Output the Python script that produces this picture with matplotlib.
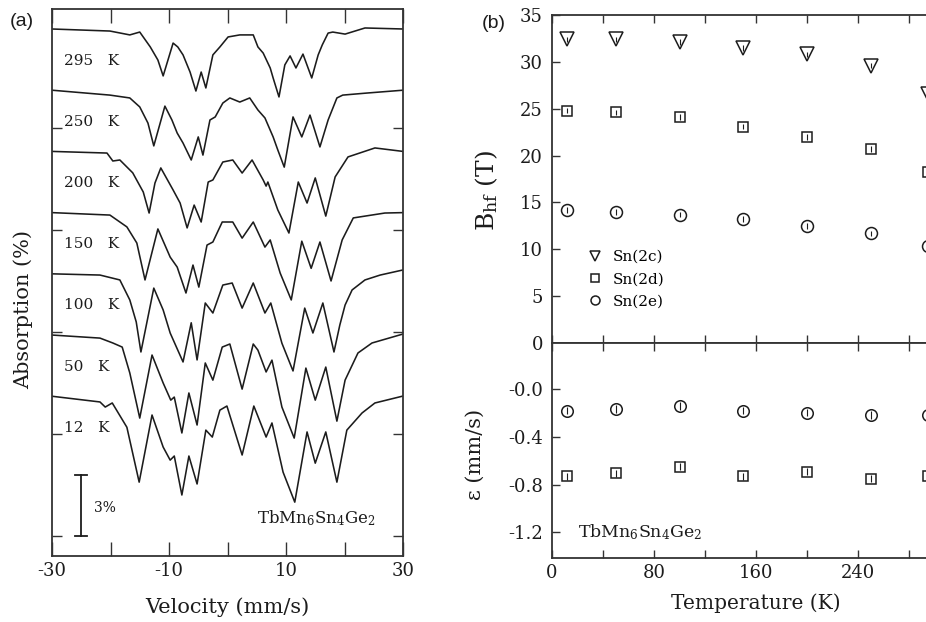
import matplotlib
matplotlib.use("Agg")
import matplotlib.pyplot as plt
from matplotlib.ticker import MultipleLocator, FixedLocator, NullFormatter

plt.rcParams['font.family'] = 'DejaVu Serif'
plt.rcParams['mathtext.fontset'] = 'dejavuserif'
plt.rcParams['axes.unicode_minus'] = False

# ---------------- (a) Mossbauer spectra: velocity (mm/s) and absorption depth (%) ----------------
spec_labels = ['295', '250', '200', '150', '100', '50', '12']

v_295 = [-30, -20.1, -16.7, -15.0, -13.2, -11.9, -11.0, -9.3, -8.5, -7.6, -6.4, -5.4, -4.5, -3.7, -2.5,
         -1.3, 0.1, 2.1, 4.4, 5.2, 6.1, 7.3, 7.8, 8.8, 9.8, 10.7, 11.7, 12.9, 14.4, 15.5, 16.2, 17.2,
         18.0, 20.1, 23.5, 30]
a_295 = [0.00, 0.10, 0.29, 0.15, 0.88, 1.52, 2.30, 0.69, 0.88, 1.27, 2.11, 3.04, 2.11, 2.89, 1.27,
         0.88, 0.39, 0.29, 0.29, 0.88, 1.18, 1.91, 2.40, 3.33, 1.76, 1.32, 1.91, 1.23, 2.40, 1.27, 0.78, 0.20,
         0.15, 0.25, -0.05, 0.00]

v_250 = [-30, -20.1, -16.7, -15.0, -13.6, -12.6, -10.7, -9.5, -8.6, -7.6, -6.2, -5.0, -4.2, -3.0, -2.1,
         -0.8, 0.4, 2.1, 3.8, 5.2, 6.4, 7.8, 8.6, 9.7, 11.2, 12.7, 14.1, 15.8, 17.2, 18.7, 19.7, 23.8, 30]
a_250 = [0.00, 0.24, 0.38, 0.82, 1.61, 2.73, 0.78, 1.46, 2.10, 2.59, 3.42, 2.29, 3.18, 1.46, 1.31,
         0.63, 0.38, 0.58, 0.38, 0.97, 1.36, 2.29, 2.93, 3.77, 1.31, 2.29, 1.22, 2.78, 1.46, 0.38, 0.24, 0.14, 0.00]

v_200 = [-30, -20.6, -19.6, -18.4, -16.2, -14.4, -13.4, -12.4, -11.4, -9.3, -8.1, -6.9, -5.7, -4.5, -3.3,
         -2.5, -0.8, 0.9, 2.5, 4.2, 6.1, 6.6, 6.9, 8.6, 10.5, 12.1, 13.6, 15.0, 16.8, 18.4, 20.6, 25.2, 30]
a_200 = [0.00, 0.08, 0.47, 0.42, 1.05, 1.99, 3.02, 1.55, 0.81, 1.89, 2.53, 3.75, 2.63, 3.46, 1.50,
         1.40, 0.52, 0.42, 1.06, 0.42, 1.40, 1.70, 1.50, 2.87, 4.00, 1.50, 2.53, 1.30, 3.17, 1.25, 0.27, -0.17, 0.00]

v_150 = [-30, -20.1, -17.2, -15.5, -14.1, -11.9, -9.8, -8.6, -7.1, -5.9, -4.9, -3.5, -2.5, -0.9, 0.9,
         2.5, 4.4, 6.4, 7.3, 9.0, 10.9, 12.7, 14.3, 15.8, 17.7, 19.6, 21.5, 26.9, 30]
a_150 = [0.00, 0.12, 0.70, 1.49, 3.30, 0.80, 2.18, 2.67, 3.94, 2.57, 3.65, 1.59, 1.44, 0.46, 0.46,
         1.25, 0.46, 1.69, 1.34, 2.96, 4.28, 1.40, 2.73, 1.44, 3.35, 1.34, 0.26, 0.02, 0.00]

v_100 = [-30, -21.8, -18.4, -16.7, -15.6, -14.8, -12.6, -11.0, -9.8, -7.6, -6.2, -5.2, -3.8, -2.5, -0.8,
         0.8, 2.5, 4.4, 6.4, 7.4, 9.3, 11.2, 13.2, 14.6, 16.3, 18.2, 19.2, 20.1, 21.3, 23.5, 26.1, 30]
a_100 = [0.00, 0.06, 0.30, 1.28, 2.36, 3.83, 0.70, 1.77, 2.90, 4.32, 2.40, 4.22, 1.43, 1.92, 0.55,
         0.45, 1.68, 0.45, 1.92, 1.43, 3.40, 4.76, 1.68, 2.90, 1.43, 3.83, 2.51, 1.53, 0.79, 0.30, 0.06, -0.19]

v_50 = [-30, -21.8, -19.6, -18.0, -16.7, -15.0, -12.9, -11.0, -9.7, -9.1, -7.8, -6.6, -5.2, -3.8, -2.5,
        -0.9, 0.4, 2.5, 4.4, 5.2, 6.6, 7.6, 9.3, 11.4, 13.4, 15.0, 16.8, 18.7, 20.1, 22.3, 24.7, 30]
a_50 = [0.00, 0.15, 0.39, 0.59, 1.86, 4.07, 0.98, 2.35, 3.19, 3.04, 4.80, 2.84, 4.41, 1.37, 2.21,
        0.59, 0.44, 2.65, 0.44, 0.74, 1.81, 1.23, 3.53, 5.05, 1.62, 3.19, 1.57, 4.22, 2.21, 0.88, 0.39, -0.05]

v_12 = [-30, -21.8, -20.9, -19.7, -17.2, -15.1, -12.9, -11.0, -9.8, -9.1, -7.8, -6.6, -5.2, -3.7, -2.6,
        -1.3, -0.1, 2.5, 4.5, 6.6, 7.6, 9.5, 11.5, 13.6, 15.0, 16.8, 18.7, 20.4, 23.0, 25.2, 30]
a_12 = [0.00, 0.28, 0.53, 0.33, 1.52, 4.21, 0.92, 2.49, 3.13, 2.93, 4.84, 2.93, 4.30, 1.66, 2.00,
        0.68, 0.48, 2.88, 0.48, 2.00, 1.31, 3.72, 5.19, 1.75, 3.28, 1.75, 4.21, 1.66, 0.82, 0.33, -0.01]

spectra_v = [v_295, v_250, v_200, v_150, v_100, v_50, v_12]
spectra_a = [a_295, a_250, a_200, a_150, a_100, a_50, a_12]
scale_bar_pct = 3

# ---------------- (b) hyperfine parameters ----------------
temps = [12, 50, 100, 150, 200, 250, 295]
bhf_2c = [32.4, 32.4, 32.1, 31.5, 30.8, 29.6, 26.6]
bhf_2d = [24.8, 24.6, 24.1, 23.1, 22.0, 20.7, 18.3]
bhf_2e = [14.2, 14.0, 13.7, 13.2, 12.5, 11.7, 10.4]
eps_2e = [-0.178, -0.165, -0.14, -0.18, -0.195, -0.215, -0.218]
eps_2d = [-0.73, -0.705, -0.65, -0.73, -0.69, -0.75, -0.73]
bhf_err = 0.3
eps_err = 0.03
eps_tick_labels = ['-1.2', '-0.8', '-0.4', '-0.0']

W, H = 926, 622
fig = plt.figure(figsize=(W / 100, H / 100), dpi=100)

ink = '#1c1c1c'
spine_c = '#333333'

# ---------------- panel (a) ----------------
axA = fig.add_axes([52 / W, 66 / H, 351 / W, 547 / H])
base, step = 11.85, 3.0
n = len(spectra_v)
for k, (v, a, lab) in enumerate(zip(spectra_v, spectra_a, spec_labels)):
    off = base + step * (n - 1 - k)
    axA.plot(v, [off - x for x in a], color=ink, lw=1.15, solid_joinstyle='round')
    axA.text(-27.9, off - 1.55, f'{lab}   K', fontsize=11, va='center', ha='left', color=ink)

# scale bar
axA.plot([-25, -25], [5.0, 5.0 + scale_bar_pct], color=ink, lw=1.3)
axA.plot([-26, -24], [5.0, 5.0], color=ink, lw=1.3)
axA.plot([-26, -24], [5.0 + scale_bar_pct, 5.0 + scale_bar_pct], color=ink, lw=1.3)
axA.text(-22.8, 6.37, f'{scale_bar_pct}%', fontsize=10, va='center', ha='left', color=ink)
axA.text(5.0, 5.88, r'TbMn$_6$Sn$_4$Ge$_2$', fontsize=12, va='center', ha='left', color=ink)

axA.set_xlim(-30, 30)
axA.set_ylim(4.02, 30.83)
axA.xaxis.set_major_locator(FixedLocator([-30, -10, 10, 30]))
axA.xaxis.set_minor_locator(FixedLocator([-20, 0, 20]))
axA.yaxis.set_major_locator(FixedLocator([5, 10, 15, 20, 25]))
axA.yaxis.set_major_formatter(NullFormatter())
axA.tick_params(axis='x', which='both', direction='in', top=True, bottom=True, length=10, width=1.0,
                labelsize=13, pad=4.5, colors=spine_c, labelcolor=ink)
axA.tick_params(axis='y', which='both', direction='in', left=True, right=True, length=7, width=1.0,
                colors=spine_c)
axA.set_xlabel('Velocity (mm/s)', fontsize=15, color=ink)
axA.xaxis.set_label_coords(0.5, -0.075)
axA.set_ylabel('Absorption (%)', fontsize=15, color=ink)
axA.yaxis.set_label_coords(-0.054, 0.45)

# ---------------- panel (b) top ----------------
axB = fig.add_axes([552 / W, (H - 343) / H, 408 / W, 328 / H])
axC = fig.add_axes([552 / W, (H - 558) / H, 408 / W, 215 / H])

mk = dict(ls='none', mfc='none', mec=ink, mew=1.1)
for yv in (bhf_2c, bhf_2d, bhf_2e):
    axB.errorbar(temps, yv, yerr=bhf_err, fmt='none', ecolor=ink, elinewidth=0.8)
axB.plot(temps, bhf_2c, marker='v', ms=9.4, label='Sn(2c)', **mk)
axB.plot(temps, bhf_2d, marker='s', ms=6.8, label='Sn(2d)', **mk)
axB.plot(temps, bhf_2e, marker='o', ms=8.6, label='Sn(2e)', **mk)
axB.legend(loc='upper left', bbox_to_anchor=(0.086, 0.284), frameon=False, fontsize=11,
           handlelength=1.0, handletextpad=0.7, labelspacing=0.55, borderpad=0, borderaxespad=0,
           markerscale=0.75)

axB.set_xlim(0, 320)
axB.set_ylim(0, 35)
axB.xaxis.set_major_locator(MultipleLocator(40))
axB.xaxis.set_major_formatter(NullFormatter())
axB.yaxis.set_major_locator(MultipleLocator(5))
axB.tick_params(axis='x', direction='in', top=True, bottom=True, length=6, width=1.0, colors=spine_c)
axB.tick_params(axis='y', direction='in', left=True, right=True, length=6, width=1.0,
                labelsize=13, pad=6.5, colors=spine_c, labelcolor=ink)
axB.set_ylabel(r'B$_{\rm hf}$ (T)', fontsize=18, color=ink)
axB.yaxis.set_label_coords(-0.128, 0.466)

# ---------------- panel (b) bottom ----------------
for yv in (eps_2e, eps_2d):
    axC.errorbar(temps, yv, yerr=eps_err, fmt='none', ecolor=ink, elinewidth=0.8)
axC.plot(temps, eps_2e, marker='o', ms=8.3, **mk)
axC.plot(temps, eps_2d, marker='s', ms=6.8, **mk)
axC.text(20.4, -1.20, r'TbMn$_6$Sn$_4$Ge$_2$', fontsize=12.5, va='center', ha='left', color=ink)

axC.set_xlim(0, 320)
axC.set_ylim(-1.414, 0.388)
axC.xaxis.set_major_locator(FixedLocator([0, 80, 160, 240]))
axC.xaxis.set_minor_locator(FixedLocator([40, 120, 200, 280, 320]))
axC.yaxis.set_major_locator(FixedLocator([-1.2, -0.8, -0.4, 0.0]))
axC.set_yticklabels(eps_tick_labels)
axC.tick_params(axis='x', which='both', direction='in', top=True, bottom=True, length=6, width=1.0,
                labelsize=13, pad=4.0, colors=spine_c, labelcolor=ink)
axC.tick_params(axis='y', direction='in', left=True, right=True, length=6, width=1.0,
                labelsize=13, pad=6.5, colors=spine_c, labelcolor=ink)
axC.set_xlabel('Temperature (K)', fontsize=14.5, color=ink)
axC.xaxis.set_label_coords(0.5, -0.165)
axC.set_ylabel('\u03b5 (mm/s)', fontsize=15, color=ink)
axC.yaxis.set_label_coords(-0.164, 0.48)

for ax in (axA, axB, axC):
    for s in ax.spines.values():
        s.set_linewidth(1.3)
        s.set_color(spine_c)

fig.text(10 / W, 1 - 21 / H, '(a)', fontsize=14, family='Liberation Sans', va='center', ha='left', color=ink)
fig.text(482 / W, 1 - 23 / H, '(b)', fontsize=14, family='Liberation Sans', va='center', ha='left', color=ink)

fig.savefig('out.png', dpi=100)
